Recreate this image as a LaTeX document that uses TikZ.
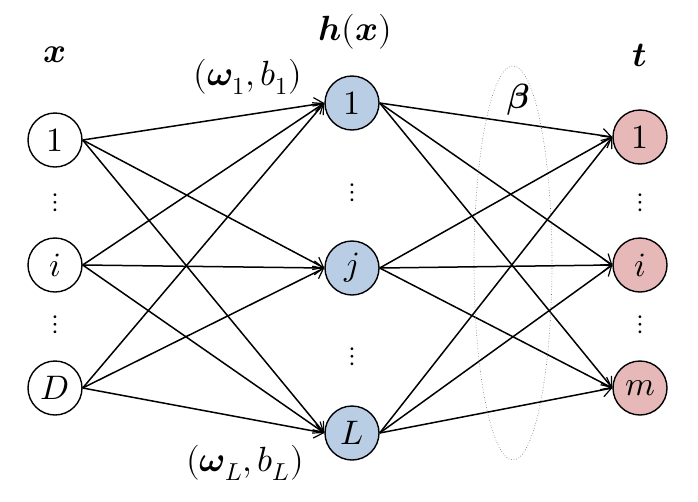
\documentclass[tikz,border=0pt]{standalone}
\usepackage{unicode-math}
\setmathfont{Latin Modern Math}
\usetikzlibrary{arrows.meta}
\definecolor{hidblue}{RGB}{185,205,229}
\definecolor{outred}{RGB}{230,185,184}

\begin{document}
\begin{tikzpicture}[
  x=1pt, y=-1pt,
  font=\fontsize{34}{38}\selectfont,
  neuron/.style={draw, circle, line width=1.4pt, minimum size=54pt, inner sep=0pt},
  hid/.style={neuron, fill=hidblue},
  outn/.style={neuron, fill=outred},
  arr/.style={-{Straight Barb[length=9pt, width=14pt, line width=1.2pt]}, line width=1.5pt},
  lbl/.style={font=\fontsize{35}{38}\selectfont},
  dotsn/.style={font=\fontsize{27}{30}\selectfont}
]
\useasboundingbox (0,0) rectangle (698,501);

% input layer
\node[neuron] (in1) at (55,140) {$1$};
\node[neuron] (ini) at (55,265) {$i$};
\node[neuron] (inD) at (55,388) {$D$};
\node[dotsn] (indots1) at (55,203) {$\vdots$};
\node[dotsn] (indots2) at (55,325) {$\vdots$};

% hidden layer
\node[hid] (hid1) at (352,103) {$1$};
\node[hid] (hidj) at (352,268) {$j$};
\node[hid] (hidL) at (352,433) {$L$};
\node[dotsn] (hiddots1) at (352,193) {$\vdots$};
\node[dotsn] (hiddots2) at (352,357) {$\vdots$};

% output layer
\node[outn] (out1) at (640,137) {$1$};
\node[outn] (outi) at (640,265) {$i$};
\node[outn] (outm) at (640,388) {$m$};
\node[dotsn] (outdots1) at (640,203) {$\vdots$};
\node[dotsn] (outdots2) at (640,325) {$\vdots$};

% labels
\node[lbl] (lx) at (55,55) {$\symbfit{x}$};
\node[lbl] (lh) at (355,32) {$\symbfit{h}\symbf{(}\symbfit{x}\symbf{)}$};
\node[lbl] (lt) at (640,55) {$\symbfit{t}$};
\node[lbl] (lbeta) at (518,100) {$\symbfit{\beta}$};
\node[lbl] (lw1) at (248,77) {$(\symbfit{\omega}_1, b_1)$};
\node[lbl] (lwL) at (245,463) {$(\symbfit{\omega}_L, b_L)$};

% connections
\foreach \a in {in1,ini,inD}
  \foreach \b in {hid1,hidj,hidL}
    \draw[arr] (\a.east) -- (\b.west);
\foreach \a in {hid1,hidj,hidL}
  \foreach \b in {out1,outi,outm}
    \draw[arr] (\a.east) -- (\b.west);

\draw[black!60, dotted, line width=0.6pt] (513,263) ellipse [x radius=39, y radius=197];
\end{tikzpicture}
\end{document}
